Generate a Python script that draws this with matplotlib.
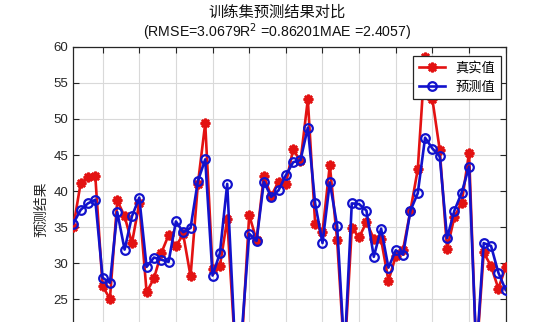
import matplotlib
matplotlib.use('Agg')
import matplotlib.pyplot as plt
from matplotlib.ticker import MultipleLocator

# sample index and values
x_idx = list(range(1, 61))
y_true = [35.0, 41.1, 41.9, 42.1, 26.8, 25.1, 38.7, 36.5, 32.8, 38.3,
          26.0, 27.9, 31.4, 33.9, 32.4, 34.0, 28.2, 41.0, 49.4, 29.2,
          29.6, 36.1, 19.5, 19.0, 36.7, 33.2, 42.1, 39.3, 41.3, 41.0,
          45.8, 44.1, 52.7, 35.5, 34.3, 43.6, 33.2, 17.0, 34.9, 33.6,
          35.7, 33.4, 33.3, 27.6, 31.0, 31.9, 37.3, 43.0, 58.6, 52.7,
          45.7, 32.0, 36.4, 38.4, 45.3, 17.0, 31.5, 29.6, 26.5, 29.5]
y_pred = [35.5, 37.4, 38.3, 38.8, 28.0, 27.3, 37.1, 31.9, 36.5, 39.1,
          29.5, 30.8, 30.5, 30.2, 35.8, 34.3, 34.9, 41.4, 44.4, 28.3,
          31.4, 41.0, 20.0, 20.5, 34.1, 33.1, 41.3, 39.2, 40.1, 42.2,
          44.0, 44.3, 48.8, 38.3, 32.8, 41.2, 35.2, 17.5, 38.3, 38.2,
          37.3, 30.9, 34.8, 29.4, 31.8, 31.2, 37.3, 39.7, 47.4, 45.9,
          44.8, 33.5, 37.3, 39.8, 43.4, 17.4, 32.8, 32.4, 28.7, 26.3]

title_1 = '训练集预测结果对比'
title_2 = '(RMSE=3.0679R$^2$ =0.86201MAE =2.4057)'
label_true = '真实值'
label_pred = '预测值'
ylabel = '预测结果'

cjk = ['Noto Sans CJK SC', 'DejaVu Sans']
latin = ['Liberation Sans', 'Noto Sans CJK SC']
txt_col = '#262626'

fig = plt.figure(figsize=(5.43, 3.22), dpi=100)
W, H = 543, 322
# the axes run past the bottom of the canvas, as in the cropped reference
left, right, top, bottom = 73.3, 505.7, 46.7, 371.6
ax = fig.add_axes([left / W, 1 - bottom / H, (right - left) / W, (bottom - top) / H])

ax.plot(x_idx, y_true, color='#e31212', lw=1.9, marker=(8, 2, 0), ms=7,
        mew=1.8, label=label_true, zorder=3)
ax.plot(x_idx, y_pred, color='#1212cc', lw=1.9, marker='o', ms=6.2,
        mfc='none', mew=1.6, label=label_pred, zorder=4)

ax.set_xlim(1, 60)
ax.set_ylim(15, 60)
ax.xaxis.set_major_locator(MultipleLocator(5))
ax.yaxis.set_major_locator(MultipleLocator(5))
ax.grid(True, color='#d9d9d9', lw=0.8, zorder=0)
ax.set_axisbelow(True)
ax.tick_params(direction='in', top=True, right=True, length=4, width=0.8,
               colors=txt_col, labelsize=9.5)
for lab in ax.get_yticklabels() + ax.get_xticklabels():
    lab.set_family(latin)
for s in ax.spines.values():
    s.set_color('#262626')
    s.set_linewidth(0.9)

ax.set_ylabel(ylabel, family=cjk, fontsize=10, color=txt_col, labelpad=4)

leg = ax.legend(loc='upper right', bbox_to_anchor=(0.9885, 0.971),
                borderaxespad=0, fancybox=False, framealpha=1,
                edgecolor='#262626', handlelength=2.0,
                prop={'family': cjk, 'size': 9.5})
leg.get_frame().set_linewidth(0.9)

cx = 277 / W
fig.text(cx, 1 - 12 / H, title_1, family=cjk, fontsize=11, ha='center',
         va='center', color='#111111')
fig.text(cx, 1 - 32 / H, title_2, family=latin, fontsize=10.2, ha='center',
         va='center', color='#111111')

fig.savefig('out.png', dpi=100)
